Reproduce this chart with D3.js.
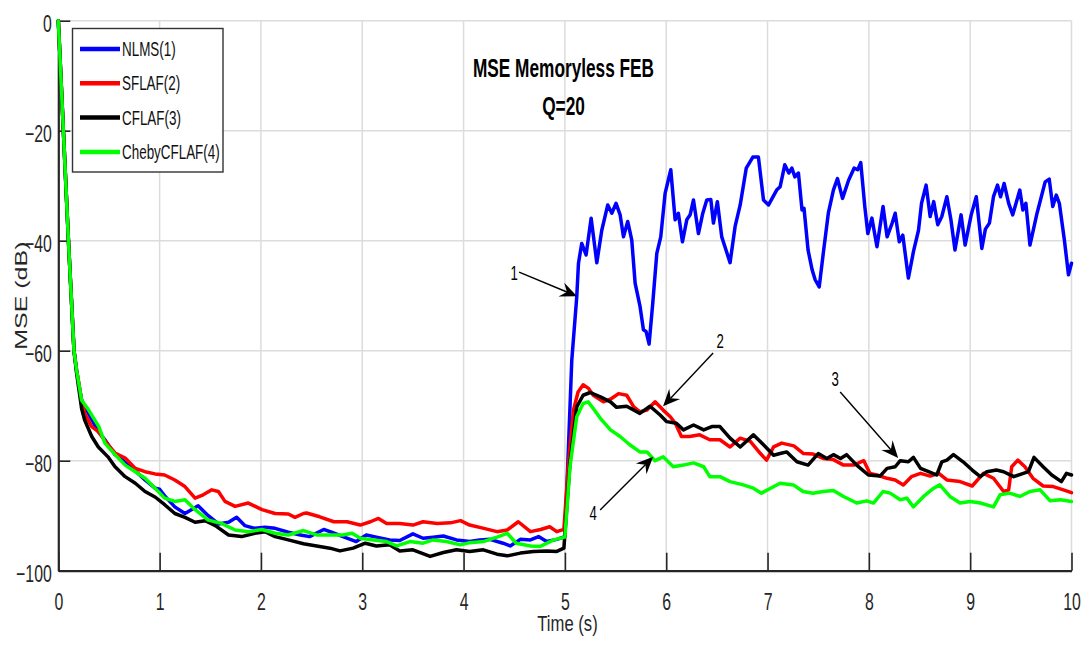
<!DOCTYPE html>
<html>
<head>
<meta charset="utf-8">
<script src="https://cdn.jsdelivr.net/npm/d3@7"></script>
<style>
  html, body { margin: 0; padding: 0; background: #fff; }
  svg { display: block; }
  text { font-family: "Liberation Sans", Arial, sans-serif; }
</style>
</head>
<body>
<svg id="chart" width="1083" height="646"></svg>
<script>
// ---- data: MSE curves (time in s, MSE in dB) ----
const nlms = [[0,0],[0.05,-20],[0.1,-40],[0.155,-60],[0.18,-63.5],[0.23,-69],[0.3,-71.5],[0.395,-74.7],[0.46,-76.2],[0.56,-78.9],[0.7,-80.8],[0.856,-83.5],[0.955,-85],[1.0,-85.2],[1.05,-86.4],[1.15,-88.4],[1.25,-89.6],[1.38,-88.2],[1.48,-90],[1.58,-91.5],[1.68,-91.2],[1.76,-90.3],[1.84,-91.8],[1.94,-92.3],[2.04,-92.1],[2.14,-92.3],[2.27,-93.0],[2.39,-93.5],[2.48,-93.8],[2.62,-92.5],[2.71,-93.1],[2.81,-93.8],[2.94,-94.7],[3.04,-93.5],[3.14,-93.9],[3.27,-94.4],[3.37,-94.5],[3.50,-93.3],[3.60,-94.1],[3.70,-93.9],[3.80,-93.7],[3.93,-94.4],[4.06,-94.7],[4.16,-94.4],[4.26,-94.3],[4.39,-95.0],[4.46,-95.5],[4.56,-94.3],[4.66,-94.4],[4.74,-93.8],[4.82,-94.7],[4.92,-94.3],[5.0,-93.8],[5.03,-80],[5.068,-61.7],[5.117,-50.2],[5.134,-44.1],[5.166,-40.5],[5.209,-42.6],[5.259,-35.9],[5.315,-44.0],[5.364,-38.1],[5.423,-33.5],[5.463,-35.0],[5.505,-33.2],[5.545,-35.3],[5.578,-39.3],[5.62,-36.5],[5.66,-39.9],[5.693,-47.7],[5.742,-52.0],[5.775,-56.2],[5.801,-56.5],[5.831,-58.8],[5.867,-51.4],[5.907,-42.3],[5.946,-39.3],[5.989,-31.4],[6.045,-27.1],[6.088,-36.2],[6.12,-35.0],[6.16,-40.2],[6.203,-36.2],[6.236,-35.3],[6.269,-32.6],[6.318,-38.7],[6.361,-35.0],[6.40,-32.6],[6.44,-32.5],[6.466,-36.8],[6.505,-32.9],[6.548,-39.3],[6.59,-41.7],[6.63,-44.0],[6.68,-37.4],[6.73,-33.5],[6.79,-26.8],[6.855,-24.8],[6.91,-24.8],[6.96,-32.6],[7.01,-33.5],[7.09,-30.8],[7.124,-30.2],[7.17,-26.2],[7.21,-27.7],[7.24,-26.8],[7.27,-28.4],[7.305,-27.7],[7.34,-34.4],[7.36,-34.1],[7.40,-41.7],[7.44,-45.3],[7.47,-47.1],[7.51,-48.4],[7.55,-42.3],[7.60,-35.0],[7.65,-30.8],[7.69,-28.7],[7.74,-32.3],[7.80,-29.0],[7.855,-26.8],[7.89,-27.1],[7.92,-25.8],[7.96,-33.8],[7.99,-38.7],[8.03,-35.9],[8.08,-41.1],[8.14,-33.8],[8.18,-39.3],[8.23,-36.8],[8.26,-35.0],[8.30,-40.2],[8.335,-39.0],[8.39,-46.8],[8.44,-42.0],[8.49,-38.1],[8.52,-33.2],[8.565,-29.9],[8.605,-35.6],[8.64,-32.9],[8.68,-37.1],[8.72,-35.6],[8.77,-32.0],[8.81,-36.2],[8.85,-41.7],[8.91,-35.3],[8.95,-40.8],[9.01,-35.3],[9.06,-32.0],[9.115,-41.4],[9.15,-37.9],[9.19,-36.8],[9.23,-32.0],[9.27,-29.9],[9.30,-32.0],[9.335,-29.6],[9.38,-33.2],[9.42,-35.3],[9.49,-30.8],[9.52,-34.4],[9.55,-33.2],[9.59,-40.8],[9.66,-35.0],[9.74,-29.3],[9.78,-28.8],[9.815,-33.8],[9.85,-31.7],[9.88,-33.2],[9.93,-39.9],[9.97,-46.2],[10.0,-44.1]];

const sflaf = [[0,0],[0.05,-20],[0.1,-40],[0.155,-60],[0.18,-63.5],[0.23,-69],[0.26,-71.4],[0.33,-73.8],[0.395,-74.7],[0.49,-77.1],[0.56,-78.6],[0.66,-79.5],[0.76,-81.4],[0.856,-82.0],[0.955,-82.4],[1.05,-82.6],[1.15,-83.5],[1.25,-84.7],[1.35,-86.8],[1.43,-86.2],[1.515,-85.3],[1.58,-85.6],[1.645,-87.4],[1.745,-88.3],[1.875,-87.7],[2.01,-88.9],[2.14,-89.6],[2.27,-89.7],[2.336,-90.3],[2.42,-89.6],[2.45,-89.5],[2.58,-90.2],[2.72,-91.1],[2.85,-91.1],[2.98,-91.7],[3.08,-91.1],[3.16,-90.5],[3.24,-91.4],[3.37,-91.4],[3.50,-91.7],[3.60,-91.1],[3.74,-91.4],[3.87,-91.3],[3.97,-90.9],[4.06,-91.7],[4.20,-92.3],[4.33,-92.9],[4.43,-92.6],[4.54,-91.1],[4.66,-92.9],[4.76,-92.5],[4.85,-92.0],[4.92,-92.9],[4.99,-92.5],[5.035,-80.5],[5.084,-70.8],[5.13,-67.5],[5.18,-66.2],[5.23,-66.8],[5.28,-68.1],[5.38,-69.3],[5.46,-68.7],[5.53,-67.8],[5.61,-68.1],[5.68,-70.2],[5.74,-71.1],[5.81,-70.8],[5.89,-69.3],[5.97,-70.8],[6.04,-72.0],[6.09,-73.2],[6.15,-75.6],[6.23,-75.6],[6.33,-75.3],[6.43,-76.2],[6.53,-76.2],[6.63,-77.5],[6.73,-75.9],[6.83,-76.5],[6.93,-78.7],[6.99,-79.9],[7.06,-77.5],[7.14,-76.8],[7.26,-77.3],[7.355,-78.7],[7.45,-78.8],[7.55,-79.6],[7.65,-79.8],[7.75,-80.8],[7.85,-80.8],[7.95,-80.0],[8.01,-82.3],[8.08,-82.6],[8.18,-83.2],[8.26,-83.5],[8.34,-84.4],[8.42,-82.9],[8.51,-82.3],[8.605,-82.8],[8.69,-82.3],[8.77,-83.5],[8.90,-83.8],[9.02,-84.6],[9.13,-82.3],[9.23,-83.2],[9.33,-85.6],[9.38,-85.3],[9.41,-81.1],[9.47,-79.9],[9.54,-81.1],[9.62,-83.2],[9.72,-84.6],[9.82,-84.7],[9.92,-85.3],[10.0,-85.8]];

const cflaf = [[0,0],[0.05,-20],[0.1,-40],[0.155,-60],[0.18,-64],[0.23,-70.5],[0.26,-72.6],[0.33,-75.6],[0.395,-77.5],[0.49,-79.3],[0.56,-81.1],[0.66,-82.9],[0.76,-84.1],[0.856,-85.6],[0.955,-86.6],[1.05,-88.0],[1.15,-89.6],[1.25,-90.3],[1.35,-91.2],[1.45,-90.9],[1.55,-91.8],[1.68,-93.5],[1.81,-93.8],[1.94,-93.2],[2.04,-92.9],[2.14,-93.8],[2.27,-94.4],[2.42,-95.1],[2.55,-95.5],[2.68,-95.9],[2.78,-96.4],[2.91,-95.9],[3.03,-95.0],[3.14,-95.5],[3.27,-95.3],[3.37,-96.4],[3.50,-96.2],[3.67,-97.4],[3.80,-96.7],[3.93,-96.2],[4.06,-96.5],[4.195,-96.2],[4.33,-97.0],[4.43,-97.3],[4.56,-96.8],[4.69,-96.5],[4.82,-96.4],[4.92,-96.5],[4.99,-95.9],[5.05,-80.5],[5.117,-70.2],[5.18,-68.1],[5.25,-67.6],[5.35,-68.4],[5.45,-69.3],[5.51,-70.3],[5.61,-70.1],[5.74,-71.4],[5.84,-70.1],[5.94,-71.7],[6.005,-72.9],[6.10,-73.2],[6.17,-74.4],[6.27,-73.5],[6.37,-74.4],[6.45,-73.8],[6.53,-73.8],[6.63,-75.9],[6.73,-77.5],[6.86,-75.3],[6.96,-77.1],[7.06,-79.0],[7.124,-78.7],[7.19,-78.4],[7.29,-80.2],[7.40,-80.8],[7.50,-78.7],[7.585,-79.6],[7.65,-78.9],[7.72,-79.6],[7.78,-78.9],[7.88,-80.8],[7.995,-82.6],[8.11,-82.8],[8.18,-81.4],[8.26,-81.1],[8.31,-80.0],[8.39,-80.2],[8.44,-79.4],[8.51,-81.4],[8.59,-82.0],[8.67,-82.6],[8.72,-80.2],[8.77,-79.9],[8.835,-78.9],[8.93,-80.2],[9.02,-81.7],[9.10,-82.9],[9.165,-82.0],[9.26,-81.7],[9.33,-82.0],[9.43,-82.9],[9.525,-82.3],[9.575,-82.0],[9.63,-79.4],[9.72,-81.1],[9.805,-82.6],[9.90,-83.8],[9.95,-82.3],[10.0,-82.6]];

const chebyCflaf = [[0,0],[0.05,-20],[0.1,-40],[0.155,-60],[0.18,-63.5],[0.23,-69],[0.30,-70.8],[0.40,-73.8],[0.46,-76.8],[0.56,-78.9],[0.66,-80.8],[0.76,-82.0],[0.856,-83.2],[0.955,-85.0],[1.05,-86.8],[1.15,-87.4],[1.25,-87.1],[1.35,-88.9],[1.48,-90.8],[1.61,-91.4],[1.745,-92.6],[1.875,-92.9],[2.01,-92.5],[2.14,-93.2],[2.27,-93.5],[2.42,-92.7],[2.55,-93.5],[2.68,-93.5],[2.81,-93.5],[2.90,-93.2],[2.98,-94.1],[3.11,-94.4],[3.24,-94.7],[3.34,-95.5],[3.47,-94.7],[3.60,-95.0],[3.70,-94.4],[3.83,-94.7],[3.97,-95.3],[4.06,-94.9],[4.195,-94.7],[4.33,-93.9],[4.43,-93.2],[4.52,-95.0],[4.66,-95.5],[4.755,-95.6],[4.89,-94.4],[5.0,-93.9],[5.05,-81.1],[5.117,-72.0],[5.18,-69.6],[5.23,-69.3],[5.28,-70.5],[5.35,-72.3],[5.45,-74.4],[5.545,-75.6],[5.64,-77.1],[5.74,-78.4],[5.81,-78.4],[5.89,-80.0],[5.97,-79.3],[6.07,-81.1],[6.17,-80.8],[6.27,-80.4],[6.37,-81.1],[6.43,-82.9],[6.53,-82.9],[6.63,-83.8],[6.76,-84.4],[6.86,-85.0],[6.94,-85.9],[7.03,-85.0],[7.124,-84.1],[7.255,-84.4],[7.35,-85.6],[7.45,-85.9],[7.55,-85.6],[7.65,-85.4],[7.75,-86.5],[7.88,-87.7],[7.98,-87.3],[8.045,-87.7],[8.14,-85.6],[8.21,-85.9],[8.31,-87.1],[8.375,-86.8],[8.44,-88.4],[8.54,-86.5],[8.64,-85.0],[8.70,-84.4],[8.80,-86.5],[8.90,-87.7],[9.0,-87.4],[9.10,-87.7],[9.23,-88.4],[9.295,-86.2],[9.39,-85.9],[9.49,-86.5],[9.59,-85.6],[9.69,-85.3],[9.79,-87.3],[9.89,-87.1],[10.0,-87.4]];

const seriesNames = ["NLMS(1)", "SFLAF(2)", "CFLAF(3)", "ChebyCFLAF(4)"];
const seriesColors = ["#0000ff", "#ff0000", "#000000", "#00ff00"];
const xTicks = [0, 1, 2, 3, 4, 5, 6, 7, 8, 9, 10];
const yTicks = [0, -20, -40, -60, -80, -100];

// curve annotations: label, label position, arrow tail, arrow tip (data units)
const annotations = [
  { label: "1", at: [4.499, -45.9], from: [4.548, -45.7], to: [5.120, -50.1] },
  { label: "2", at: [6.532, -58.2], from: [6.463, -60.4], to: [5.969, -70.1] },
  { label: "3", at: [7.668, -65.1], from: [7.717, -67.5], to: [8.289, -79.5] },
  { label: "4", at: [5.279, -89.5], from: [5.348, -88.96], to: [5.871, -79.3] }
];

// ---- layout ----
const svg = d3.select("#chart");
const plotL = 58.3, plotR = 1071.5, plotT = 20.7, plotB = 570.7;
const SX = 0.66;             // horizontal compression of all lettering
const axisColor = "#262626";

const x = d3.scaleLinear().domain([0, 10]).range([plotL, plotR]);
const y = d3.scaleLinear().domain([-100, 0]).range([plotB, plotT]);

function label(g, px, py, str, size, opts = {}) {
  return g.append("text")
    .attr("transform", `translate(${px},${py}) scale(${opts.sx || SX},1)${opts.rotate ? ` rotate(${opts.rotate})` : ""}`)
    .attr("text-anchor", opts.anchor || "middle")
    .attr("font-size", size)
    .attr("font-weight", opts.weight || "normal")
    .attr("fill", opts.fill || axisColor)
    .text(str);
}

// grid
const grid = svg.append("g");
grid.selectAll("line.v").data(xTicks.slice(1)).join("line")
  .attr("x1", d => x(d)).attr("x2", d => x(d))
  .attr("y1", plotT).attr("y2", plotB)
  .attr("stroke", "#dcdcdc").attr("stroke-width", 1.5);
grid.selectAll("line.h").data(yTicks.slice(0, -1)).join("line")
  .attr("x1", plotL).attr("x2", plotR)
  .attr("y1", d => y(d)).attr("y2", d => y(d))
  .attr("stroke", "#dcdcdc").attr("stroke-width", 1.5);

// axes
const xAxis = svg.append("g").attr("transform", `translate(0,${plotB})`)
  .call(d3.axisBottom(x).tickValues(xTicks).tickSizeInner(-18).tickSizeOuter(0).tickFormat(d3.format("d")));
const yAxis = svg.append("g").attr("transform", `translate(${plotL},0)`)
  .call(d3.axisLeft(y).tickValues(yTicks).tickSizeInner(-12).tickSizeOuter(0).tickFormat(d3.format("d")));
[xAxis, yAxis].forEach(a => {
  a.select(".domain").attr("stroke", axisColor).attr("stroke-width", 2.2);
  a.selectAll(".tick line").attr("stroke", axisColor).attr("stroke-width", 1.6);
  a.selectAll(".tick text").remove();
});
xAxis.selectAll(".tick").each(function (d) {
  label(d3.select(this), 0, 39, d3.format("d")(d), 24);
});
yAxis.selectAll(".tick").each(function (d) {
  label(d3.select(this), -6.5, 10.5, d3.format("d")(d), 24, { anchor: "end" });
});

// axis titles
label(svg, 567.5, 631, "Time (s)", 22.5, { sx: 0.74 });
label(svg, 27, (plotT + plotB) / 2, "MSE (dB)", 25, { rotate: -90 });

// chart title
label(svg, 563.5, 76.5, "MSE Memoryless FEB", 25, { weight: "bold", fill: "#000", sx: 0.69 });
label(svg, 563.5, 115, "Q=20", 25, { weight: "bold", fill: "#000", sx: 0.69 });

// curves
const line = d3.line().x(d => x(d[0])).y(d => y(d[1]));
const allSeries = [nlms, sflaf, cflaf, chebyCflaf];
svg.append("g").selectAll("path").data(allSeries).join("path")
  .attr("d", line)
  .attr("fill", "none")
  .attr("stroke", (d, i) => seriesColors[i])
  .attr("stroke-width", 3.5)
  .attr("stroke-linejoin", "round")
  .attr("stroke-linecap", "round");

// annotations with notched arrowheads
const ann = svg.append("g");
annotations.forEach(a => {
  const x0 = x(a.from[0]), y0 = y(a.from[1]), x1 = x(a.to[0]), y1 = y(a.to[1]);
  const ang = Math.atan2(y1 - y0, x1 - x0);
  const L = 17, W = 7.5, N = 11;
  const ux = Math.cos(ang), uy = Math.sin(ang), nx = -uy, ny = ux;
  ann.append("line")
    .attr("x1", x0).attr("y1", y0)
    .attr("x2", x1 - ux * N).attr("y2", y1 - uy * N)
    .attr("stroke", "#000").attr("stroke-width", 1.4);
  const pts = [
    [x1, y1],
    [x1 - ux * L + nx * W, y1 - uy * L + ny * W],
    [x1 - ux * N, y1 - uy * N],
    [x1 - ux * L - nx * W, y1 - uy * L - ny * W]
  ];
  ann.append("polygon").attr("points", pts.map(p => p.join(",")).join(" ")).attr("fill", "#000");
  label(ann, x(a.at[0]), y(a.at[1]) + 7, a.label, 20, { fill: "#000" });
});

// legend
const lg = svg.append("g");
lg.append("rect").attr("x", 72.5).attr("y", 28.5).attr("width", 150.5).attr("height", 143.5)
  .attr("fill", "#fff").attr("stroke", "#333").attr("stroke-width", 1.4);
seriesNames.forEach((name, i) => {
  const ly = 49 + i * 34.3;
  lg.append("line").attr("x1", 80).attr("x2", 120).attr("y1", ly).attr("y2", ly)
    .attr("stroke", seriesColors[i]).attr("stroke-width", 4.5);
  label(lg, 122, ly + 7, name, 21, { anchor: "start", sx: 0.64, fill: "#111" });
});
</script>
</body>
</html>
